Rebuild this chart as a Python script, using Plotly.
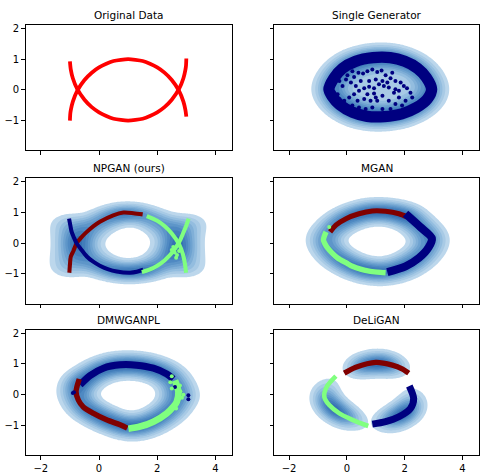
import numpy as np
import plotly.graph_objects as go

# ---------------- data ----------------
titles = ["Original Data", "Single Generator", "NPGAN (ours)", "MGAN", "DMWGANPL", "DeLiGAN"]
x_ticks = [-2, 0, 2, 4]
x_tick_text = ["\u22122", "0", "2", "4"]
y_ticks = [-1, 0, 1, 2]
y_tick_text = ["\u22121", "0", "1", "2"]

NAVY = "#000080"
GREEN = "#80ff7f"
MAROON = "#800000"
RED = "#ff0000"

# Original data
orig_a_x = [-1.0, -0.99, -0.97, -0.9, -0.75, -0.5, -0.25, 0.0, 0.25, 0.5, 0.75, 1.0, 1.25, 1.5, 1.75, 2.0, 2.25, 2.5, 2.75, 2.9, 2.97, 3.0]
orig_a_y = [-1.0, -0.8, -0.66, -0.38, -0.03, 0.32, 0.56, 0.73, 0.85, 0.94, 0.98, 1.0, 0.98, 0.94, 0.85, 0.73, 0.56, 0.32, -0.03, -0.38, -0.66, -0.87]
orig_b_x = [-1.0, -0.97, -0.9, -0.75, -0.5, -0.25, 0.0, 0.25, 0.5, 0.75, 1.0, 1.25, 1.5, 1.75, 2.0, 2.25, 2.5, 2.75, 2.9, 2.97, 2.99, 3.0]
orig_b_y = [0.93, 0.66, 0.38, 0.03, -0.32, -0.56, -0.73, -0.85, -0.94, -0.98, -1.0, -0.98, -0.94, -0.85, -0.73, -0.56, -0.32, 0.03, 0.38, 0.66, 0.8, 1.02]

# Single generator: thick ring + interior samples
single_ring_x = [-0.62, -0.45, -0.15, 0.3, 0.9, 1.5, 2.0, 2.45, 2.75, 2.93, 2.78, 2.4, 1.9, 1.3, 0.7, 0.2, -0.25, -0.5, -0.62]
single_ring_y = [0.02, 0.38, 0.7, 0.93, 1.05, 1.05, 0.93, 0.7, 0.4, 0.02, -0.3, -0.58, -0.78, -0.87, -0.86, -0.73, -0.48, -0.22, 0.02]
single_pts_x = [-0.26, -0.15, -0.03, 0.14, 0.25, 0.40, 0.56, 0.71, 0.88, 1.05, 1.20, 1.34, 1.51, 1.68, 1.86, 1.97, 2.08, 2.20, 2.26, 2.03, 1.80, 1.63, 1.45, 1.28, 1.11, 0.94, 0.77, 0.60, 0.42, 0.25, 0.08, -0.09, -0.26, -0.32, 0.37, 0.60, 0.82, 1.00, 1.23, 1.45, 1.68, 1.91, 0.88, 0.65, 0.42, 0.19, -0.03, 1.23, 1.51, 0.77, 1.00, 1.23, 0.48, 0.31, 1.40, 1.68, 1.80, 0.19, 0.02, 1.57, 0.94, 0.71, 1.05]
single_pts_y = [0.29, 0.13, 0.34, 0.24, 0.42, 0.56, 0.53, 0.61, 0.66, 0.58, 0.63, 0.48, 0.38, 0.29, 0.24, 0.13, 0.05, -0.09, -0.25, -0.35, -0.25, -0.09, 0.08, 0.13, 0.18, 0.05, 0.10, 0.05, -0.03, -0.14, -0.25, -0.35, -0.30, -0.14, -0.35, -0.30, -0.35, -0.25, -0.19, -0.35, -0.46, -0.51, -0.57, -0.62, -0.57, -0.51, -0.57, -0.62, -0.62, 0.29, 0.34, 0.29, 0.29, 0.13, 0.24, 0.02, -0.03, 0.61, 0.48, 0.56, -0.12, -0.14, -0.35]

# NPGAN
np_maroon_x = [-1.02, -1.0, -0.97, -0.88, -0.77, -0.6, -0.42, -0.2, 0.03, 0.49, 0.84, 1.18, 1.5]
np_maroon_y = [-0.96, -0.7, -0.43, -0.25, 0.0, 0.2, 0.37, 0.55, 0.7, 0.91, 1.0, 0.98, 0.94]
np_navy_x = [-1.03, -0.98, -0.94, -0.86, -0.77, -0.6, -0.42, -0.2, 0.03, 0.3, 0.61, 1.07, 1.3, 1.52]
np_navy_y = [0.8, 0.55, 0.37, 0.18, 0.0, -0.22, -0.43, -0.6, -0.73, -0.84, -0.92, -0.96, -0.93, -0.86]
np_green1_x = [1.47, 1.75, 2.0, 2.25, 2.5, 2.75, 2.9, 3.0, 3.08]
np_green1_y = [-0.94, -0.85, -0.73, -0.56, -0.32, 0.03, 0.35, 0.58, 0.8]
np_green2_x = [1.64, 2.0, 2.25, 2.5, 2.75, 2.88, 2.95, 2.99]
np_green2_y = [0.88, 0.73, 0.56, 0.32, -0.03, -0.35, -0.65, -0.96]
np_green_pts_x = [2.55, 2.6, 2.68, 2.75, 2.65, 2.5, 2.72]
np_green_pts_y = [-0.12, -0.3, -0.38, -0.25, -0.47, -0.22, -0.05]

# MGAN
mg_red_x = [-0.58, -0.38, -0.03, 0.42, 0.88, 1.34, 1.80, 2.08]
mg_red_y = [0.37, 0.59, 0.80, 0.96, 1.05, 1.04, 0.96, 0.86]
mg_navy_x = [2.03, 2.54, 2.94, 2.83, 2.49, 2.03, 1.40]
mg_navy_y = [0.96, 0.53, 0.16, -0.13, -0.48, -0.75, -0.94]
mg_green_x = [-0.72, -0.81, -0.75, -0.66, -0.5, -0.32, 0.0, 0.19, 0.5, 0.77, 1.05, 1.34]
mg_green_y = [0.37, 0.11, -0.03, -0.16, -0.33, -0.48, -0.65, -0.75, -0.85, -0.91, -0.94, -0.96]
mg_green_pts_x = [-0.61]
mg_green_pts_y = [0.53]

# DMWGANPL
dm_navy_x = [-0.65, -0.31, 0.15, 0.72, 1.29, 1.87, 2.33, 2.55]
dm_navy_y = [0.32, 0.62, 0.86, 0.97, 0.96, 0.86, 0.67, 0.51]
dm_navy_pts_x = [-0.9, -0.86, 3.07, 3.07, 2.61]
dm_navy_pts_y = [0.05, 0.08, -0.02, -0.15, 0.25]
dm_red_x = [-0.68, -0.79, -0.71, -0.54, -0.19, 0.26, 0.72, 0.97]
dm_red_y = [0.51, 0.09, -0.18, -0.40, -0.61, -0.82, -0.98, -1.09]
dm_green_x = [1.01, 1.41, 1.87, 2.33, 2.55, 2.67, 2.73, 2.61]
dm_green_y = [-1.11, -1.04, -0.88, -0.61, -0.4, -0.24, 0.09, 0.46]
dm_green_pts_x = [2.5, 2.45, 2.8, 2.85, 2.5, 2.78, 2.65, 2.9]
dm_green_pts_y = [0.6, 0.4, 0.1, -0.1, 0.2, 0.3, -0.45, 0.0]

# DeLiGAN
dl_red_x = [-0.09, 0.31, 1.0, 1.57, 1.91, 2.14]
dl_red_y = [0.70, 0.89, 1.05, 0.96, 0.84, 0.70]
dl_navy_x = [2.16, 2.31, 2.20, 1.80, 1.34, 0.88]
dl_navy_y = [0.28, -0.13, -0.45, -0.72, -0.88, -0.96]
dl_green_x = [-0.38, -0.70, -0.78, -0.61, -0.26, 0.19, 0.74]
dl_green_y = [0.6, 0.25, -0.07, -0.34, -0.61, -0.82, -1.02]

# each cloud: (x, y, colour, band thickness in data units)
panels = [
    dict(curves=[(orig_a_x, orig_a_y, RED, 0.14), (orig_b_x, orig_b_y, RED, 0.14)], pts=[], kde=None),
    dict(curves=[(single_ring_x, single_ring_y, NAVY, 0.42)],
         pts=[(single_pts_x, single_pts_y, NAVY)], kde="joint"),
    dict(curves=[(np_maroon_x, np_maroon_y, MAROON, 0.15), (np_navy_x, np_navy_y, NAVY, 0.15),
                 (np_green1_x, np_green1_y, GREEN, 0.15), (np_green2_x, np_green2_y, GREEN, 0.15)],
         pts=[(np_green_pts_x, np_green_pts_y, GREEN)], kde="joint"),
    dict(curves=[(mg_red_x, mg_red_y, MAROON, 0.19), (mg_navy_x, mg_navy_y, NAVY, 0.3),
                 (mg_green_x, mg_green_y, GREEN, 0.2)],
         pts=[(mg_green_pts_x, mg_green_pts_y, GREEN)], kde="joint"),
    dict(curves=[(dm_navy_x, dm_navy_y, NAVY, 0.26), (dm_red_x, dm_red_y, MAROON, 0.2),
                 (dm_green_x, dm_green_y, GREEN, 0.25)],
         pts=[(dm_navy_pts_x, dm_navy_pts_y, NAVY), (dm_green_pts_x, dm_green_pts_y, GREEN)], kde="joint"),
    dict(curves=[(dl_red_x, dl_red_y, MAROON, 0.2), (dl_navy_x, dl_navy_y, NAVY, 0.26),
                 (dl_green_x, dl_green_y, GREEN, 0.17)], pts=[], kde="per_curve"),
]

X_RANGE = [-2.52, 4.57]
Y_RANGE = [-1.97, 2.12]
PT_MASS = 0.02
BW_FACTOR = 0.3
PX_PER_UNIT = 27

band_colors = ["rgba(255,255,255,0)", "#bcd7ec", "#a8cae5", "#93bddf", "#80afd7",
               "#6ea2d0", "#5e96c9", "#4f89c2", "#427dba", "#3671b2"]


def erf(x):
    s = np.sign(x)
    a = np.abs(x)
    t = 1.0 / (1.0 + 0.3275911 * a)
    y = 1 - (((((1.061405429 * t - 1.453152027) * t) + 1.421413741) * t - 0.284496736) * t
             + 0.254829592) * t * np.exp(-a * a)
    return s * y


def bandwidth(curves, pts):
    mx, my, w = [], [], []
    for xs, ys, _, _ in curves:
        xs = np.asarray(xs, float); ys = np.asarray(ys, float)
        L = np.hypot(np.diff(xs), np.diff(ys))
        mx.append((xs[1:] + xs[:-1]) / 2); my.append((ys[1:] + ys[:-1]) / 2); w.append(L)
    for xs, ys, _ in pts:
        mx.append(np.asarray(xs, float)); my.append(np.asarray(ys, float))
        w.append(np.full(len(xs), PT_MASS))
    mx = np.concatenate(mx); my = np.concatenate(my); w = np.concatenate(w)
    cx = np.average(mx, weights=w); cy = np.average(my, weights=w)
    sx = np.sqrt(np.average((mx - cx) ** 2, weights=w))
    sy = np.sqrt(np.average((my - cy) ** 2, weights=w))
    return BW_FACTOR * sx, BW_FACTOR * sy


def curve_density(xs, ys, th, hx, hy, gx, gy, taper=False):
    sp = th / np.sqrt(12)
    hxc = np.sqrt(hx ** 2 + sp ** 2); hyc = np.sqrt(hy ** 2 + sp ** 2)
    Z = np.zeros_like(gx)
    seg = np.hypot(np.diff(xs), np.diff(ys))
    cum = np.concatenate([[0], np.cumsum(seg)])
    tot = cum[-1]
    for i in range(len(xs) - 1):
        ax, ay = xs[i] / hxc, ys[i] / hyc
        bx, by = xs[i + 1] / hxc, ys[i + 1] / hyc
        Ld = seg[i]
        ux, uy = bx - ax, by - ay
        Ls = np.hypot(ux, uy)
        if Ls == 0:
            continue
        wgt = np.sin(np.pi * (cum[i] + cum[i + 1]) / (2 * tot)) ** 2 if taper else 1.0
        ex, ey = ux / Ls, uy / Ls
        PX = gx / hxc - ax; PY = gy / hyc - ay
        s = PX * ex + PY * ey
        d2 = np.clip(PX ** 2 + PY ** 2 - s ** 2, 0, None)
        Z += wgt * (np.exp(-d2 / 2) * (erf(s / np.sqrt(2)) - erf((s - Ls) / np.sqrt(2)))
                    * np.sqrt(np.pi / 2) * (Ld / Ls) / (2 * np.pi * hxc * hyc))
    return Z


def kde(panel, gx, gy):
    hx, hy = bandwidth(panel["curves"], panel["pts"])
    if panel["kde"] == "per_curve":
        Z = np.zeros_like(gx)
        for xs, ys, _, th in panel["curves"]:
            Zc = curve_density(xs, ys, th, hx, hy, gx, gy, taper=True)
            Z = np.maximum(Z, Zc / Zc.max())
        return Z
    Z = np.zeros_like(gx)
    for xs, ys, _, th in panel["curves"]:
        Z += curve_density(xs, ys, th, hx, hy, gx, gy)
    for xs, ys, _ in panel["pts"]:
        for px, py in zip(xs, ys):
            Z += PT_MASS * np.exp(-(((gx - px) / hx) ** 2 + ((gy - py) / hy) ** 2) / 2) / (2 * np.pi * hx * hy)
    return Z / Z.max()


gxs = np.linspace(X_RANGE[0], X_RANGE[1], 180)
gys = np.linspace(Y_RANGE[0], Y_RANGE[1], 120)
GX, GY = np.meshgrid(gxs, gys)

W, H = 480, 474
col_dom = [[25.7 / W, 232 / W], [274 / W, 479 / W]]
row_px = [(23, 150), (178, 305), (331, 458)]
row_dom = [[(H - b) / H, (H - t) / H] for t, b in row_px]

fig = go.Figure()
n_lev = len(band_colors) - 1
cscale = [[j / n_lev, c] for j, c in enumerate(band_colors)]

annotations = []
for k, panel in enumerate(panels):
    r, c = divmod(k, 2)
    ax = "" if k == 0 else str(k + 1)
    xa, ya = "x" + ax, "y" + ax
    if panel["kde"]:
        Z = kde(panel, GX, GY)
        fig.add_trace(go.Contour(
            x=gxs, y=gys, z=Z, xaxis=xa, yaxis=ya, showscale=False,
            colorscale=cscale, hoverinfo="skip",
            contours=dict(start=0.1, end=0.9, size=0.1, coloring="fill", showlines=False),
            line=dict(width=0, smoothing=1),
        ))
    for xs, ys, col, th in panel["curves"]:
        fig.add_trace(go.Scatter(
            x=xs, y=ys, xaxis=xa, yaxis=ya, mode="lines",
            line=dict(color=col, width=th * PX_PER_UNIT, shape="spline", smoothing=0.8),
            showlegend=False, hoverinfo="skip"))
    for xs, ys, col in panel["pts"]:
        fig.add_trace(go.Scatter(
            x=xs, y=ys, xaxis=xa, yaxis=ya, mode="markers",
            marker=dict(color=col, size=4), showlegend=False, hoverinfo="skip"))

    common = dict(showline=True, linecolor="black", linewidth=1, mirror=True,
                  ticks="outside", ticklen=3.5, tickwidth=1, tickcolor="black",
                  showgrid=False, zeroline=False,
                  tickfont=dict(family="DejaVu Sans", size=10, color="black"))
    fig.layout["xaxis" + ax] = dict(
        domain=col_dom[c], range=X_RANGE, anchor=ya, tickvals=x_ticks, ticktext=x_tick_text,
        showticklabels=(r == 2), **common)
    fig.layout["yaxis" + ax] = dict(
        domain=row_dom[r], range=Y_RANGE, anchor=xa, tickvals=y_ticks, ticktext=y_tick_text,
        showticklabels=(c == 0), **common)
    annotations.append(dict(
        text=titles[k], xref="paper", yref="paper",
        x=(col_dom[c][0] + col_dom[c][1]) / 2, y=row_dom[r][1],
        xanchor="center", yanchor="bottom", yshift=2, showarrow=False,
        font=dict(family="DejaVu Sans", size=10.5, color="black")))

fig.update_layout(
    width=W, height=H, margin=dict(l=0, r=0, t=0, b=0),
    paper_bgcolor="white", plot_bgcolor="white",
    annotations=annotations, showlegend=False,
)
fig.write_html("out.html", config={"displayModeBar": False},
               post_script="document.body.style.margin='0px';")
